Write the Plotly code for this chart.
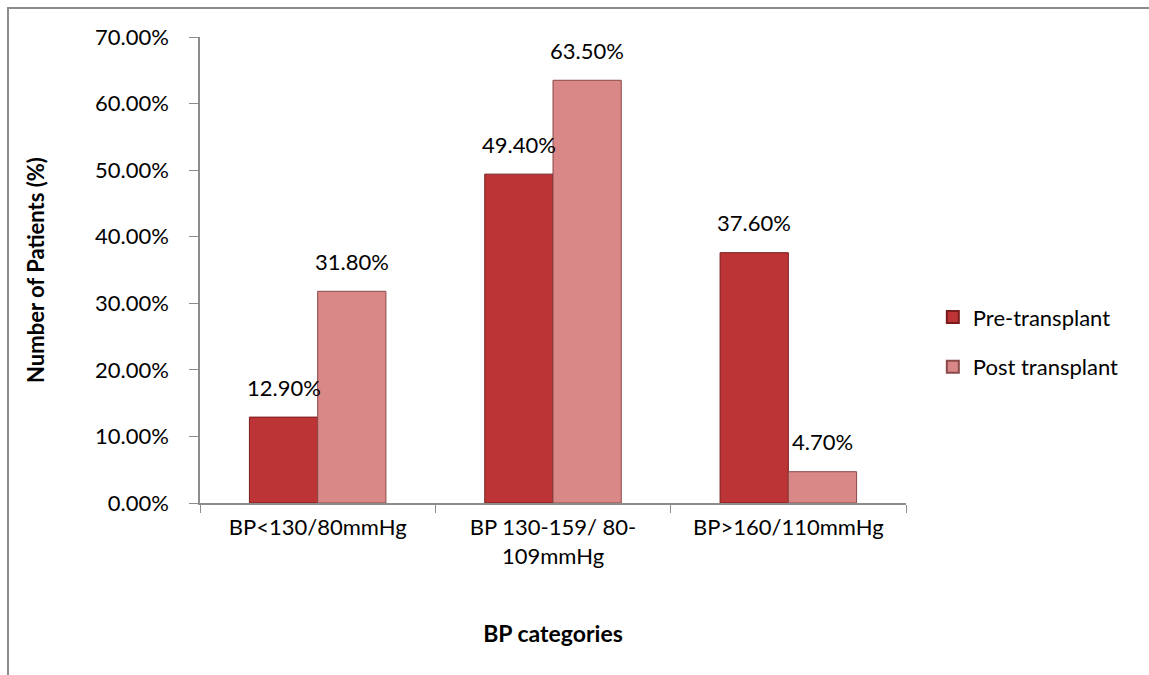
import plotly.graph_objects as go

categories = ["BP<130/80mmHg", "BP 130-159/ 80-<br>109mmHg", "BP>160/110mmHg"]
pre_values = [12.9, 49.4, 37.6]
post_values = [31.8, 63.5, 4.7]
series_names = ["Pre-transplant", "Post transplant"]
y_ticks = [0, 10, 20, 30, 40, 50, 60, 70]
y_tick_labels = [f"{v:.2f}%" for v in y_ticks]

FONT = "Lato, Carlito, Calibri, sans-serif"
FS = 22
pre_color = "#BC3435"
post_color = "#D98787"

fig = go.Figure()
fig.add_trace(go.Bar(x=categories, y=pre_values, name=series_names[0], legendgroup="a",
                     marker=dict(color=pre_color, line=dict(color="#7A1C1C", width=1))))
fig.add_trace(go.Bar(x=categories, y=post_values, name=series_names[1], legendgroup="b",
                     marker=dict(color=post_color, line=dict(color="#8A4A4A", width=1))))

half = 0.145
for i in range(len(categories)):
    for vals, dx in ((pre_values, -half), (post_values, half)):
        fig.add_annotation(x=i + dx, y=vals[i], xref="x", yref="y",
                           text=f"{vals[i]:.2f}%", showarrow=False,
                           yanchor="middle", yshift=30,
                           font=dict(family=FONT, size=FS, color="#000"))

fig.add_shape(type="rect", xref="paper", yref="paper",
              x0=(8 - 200) / 706, x1=(1170 - 200) / 706,
              y0=(503 - 690) / 466, y1=(503 - 8) / 466,
              line=dict(color="#8C8C8C", width=2), fillcolor="rgba(0,0,0,0)", layer="below")

fig.update_layout(
    width=1149, height=675,
    margin=dict(l=200, r=243, t=37, b=172),
    paper_bgcolor="white", plot_bgcolor="white",
    barmode="group", bargap=0.42, bargroupgap=0,
    font=dict(family=FONT, size=FS, color="#000"),
    showlegend=True,
    legend=dict(x=1.038, y=0.345, xanchor="left", yanchor="middle",
                font=dict(family=FONT, size=FS), itemsizing="constant",
                tracegroupgap=18, traceorder="grouped"),
    xaxis=dict(type="category", showline=True, linecolor="#8C8C8C", linewidth=1.5,
               ticks="outside", tickson="boundaries", ticklen=8, tickcolor="#8C8C8C",
               tickfont=dict(family=FONT, size=FS), ticklabelstandoff=4,
               title=dict(text="<b>BP categories</b>", font=dict(family=FONT, size=23), standoff=58)),
    yaxis=dict(range=[0, 70], tickvals=y_ticks, ticktext=y_tick_labels,
               showline=True, linecolor="#8C8C8C", linewidth=1.5,
               ticks="outside", ticklen=9, tickcolor="#8C8C8C", showgrid=False, zeroline=False,
               tickfont=dict(family=FONT, size=FS), ticklabelstandoff=16,
               title=dict(text="<b>Number of Patients (%)</b>", font=dict(family=FONT, size=FS), standoff=44)),
)

fig.write_html("out.html")
